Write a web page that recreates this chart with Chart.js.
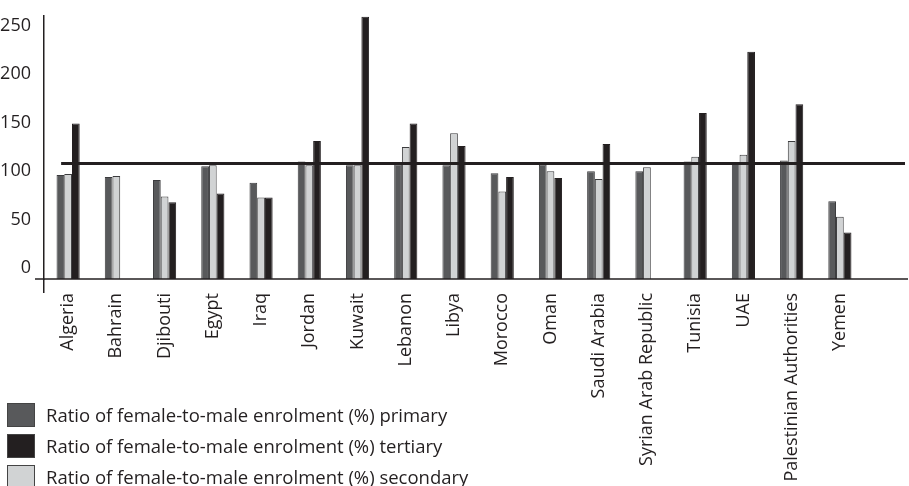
<!DOCTYPE html>
<html>
<head>
<meta charset="utf-8">
<script src="https://cdn.jsdelivr.net/npm/chart.js@4.4.0/dist/chart.umd.min.js"></script>
<style>
  body { margin: 0; background: #fff; }
  #wrap { position: relative; width: 909px; height: 486px; }
  #legend { position: absolute; left: 7px; top: 399px; font-family: "Open Sans", sans-serif; font-size: 18.5px; color: #231f20; }
  .item { display: flex; align-items: center; height: 31px; }
  .box { width: 26px; height: 22px; border: 1px solid #444; margin-right: 11px; }
</style>
</head>
<body>
<div id="wrap">
  <canvas id="chart" width="909" height="486"></canvas>
  <div id="legend"></div>
</div>
<script>
let countries = ["Algeria", "Bahrain", "Djibouti", "Egypt", "Iraq", "Jordan", "Kuwait", "Lebanon", "Libya",
    "Morocco", "Oman", "Saudi Arabia", "Syrian Arab Republic", "Tunisia", "UAE", "Palestinian Authorities", "Yemen"]
let primary = [96, 94, 91, 105, 88, 110, 106, 107, 106, 98, 107, 100, 100, 110, 108, 111, 69]
let secondary = [97, 95, 74, 106, 73, 106, 106, 125, 139, 79, 100, 92, 104, 115, 117, 131, 53]
let tertiary = [149, null, 68, 77, 73, 131, 259, 149, 126, 94, 93, 128, null, 160, 223, 169, 37]
let yTicks = [0, 50, 100, 150, 200, 250]
let refValue = 108

let ink = "#231f20"
let font = "Open Sans"

// bars start a bit below the "0" label, as in the original
let yMin = -11
let yMax = 260

let refLine = {
    id: "refLine",
    afterDatasetsDraw(chart) {
        let ctx = chart.ctx
        let area = chart.chartArea
        let x = chart.scales.x
        let y = chart.scales.y
        ctx.save()
        ctx.strokeStyle = ink
        // baseline, runs past the plot on both sides
        ctx.lineWidth = 1.5
        ctx.beginPath()
        ctx.moveTo(area.left - 9, area.bottom)
        ctx.lineTo(chart.width - 1, area.bottom)
        ctx.stroke()
        // reference line
        let py = y.getPixelForValue(refValue)
        ctx.lineWidth = 3
        ctx.beginPath()
        ctx.moveTo(x.getPixelForValue(0) - 7, py)
        ctx.lineTo(chart.width - 4, py)
        ctx.stroke()
        ctx.restore()
    }
}

let chart = new Chart("chart", {
    type: "bar",
    data: {
        labels: countries,
        datasets: [{
            label: "Ratio of female-to-male enrolment (%) primary",
            data: primary,
            backgroundColor: "#58595b",
            borderColor: "#3c3c3e",
            borderWidth: 1,
            base: yMin
        }, {
            label: "Ratio of female-to-male enrolment (%) secondary",
            data: secondary,
            backgroundColor: "#d1d3d4",
            borderColor: "#3c3c3e",
            borderWidth: 1,
            base: yMin
        }, {
            label: "Ratio of female-to-male enrolment (%) tertiary",
            data: tertiary,
            backgroundColor: "#231f20",
            borderColor: "#231f20",
            borderWidth: 1,
            base: yMin
        }]
    },
    options: {
        responsive: false,
        animation: false,
        layout: { padding: { top: 10, right: 45, left: 0, bottom: 0 } },
        datasets: { bar: { categoryPercentage: 0.48, barPercentage: 1 } },
        plugins: {
            legend: { display: false },
            tooltip: { enabled: false }
        },
        scales: {
            x: {
                border: { display: false },
                grid: {
                    offset: true,
                    drawOnChartArea: false,
                    tickLength: 14,
                    lineWidth: 1.5,
                    color: (c) => c.index === 0 ? ink : "rgba(0,0,0,0)"
                },
                ticks: {
                    minRotation: 90,
                    maxRotation: 90,
                    padding: 0,
                    color: ink,
                    font: { family: font, size: 18 }
                },
                afterFit: (s) => { s.height = 207 }
            },
            y: {
                min: yMin,
                max: yMax,
                afterBuildTicks: (s) => { s.ticks = yTicks.map(v => ({ value: v })) },
                grid: { display: false },
                border: { display: true, color: ink, width: 1.5 },
                ticks: {
                    padding: 5,
                    color: ink,
                    font: { family: font, size: 18 }
                },
                afterFit: (s) => { s.width = 44 }
            }
        }
    },
    plugins: [refLine]
});

// legend lists primary, tertiary, secondary
let legend = document.getElementById("legend")
;[0, 2, 1].forEach(i => {
    let ds = chart.data.datasets[i]
    let row = document.createElement("div")
    row.className = "item"
    let box = document.createElement("div")
    box.className = "box"
    box.style.background = ds.backgroundColor
    let txt = document.createElement("span")
    txt.textContent = ds.label
    row.appendChild(box)
    row.appendChild(txt)
    legend.appendChild(row)
})
</script>
</body>
</html>
